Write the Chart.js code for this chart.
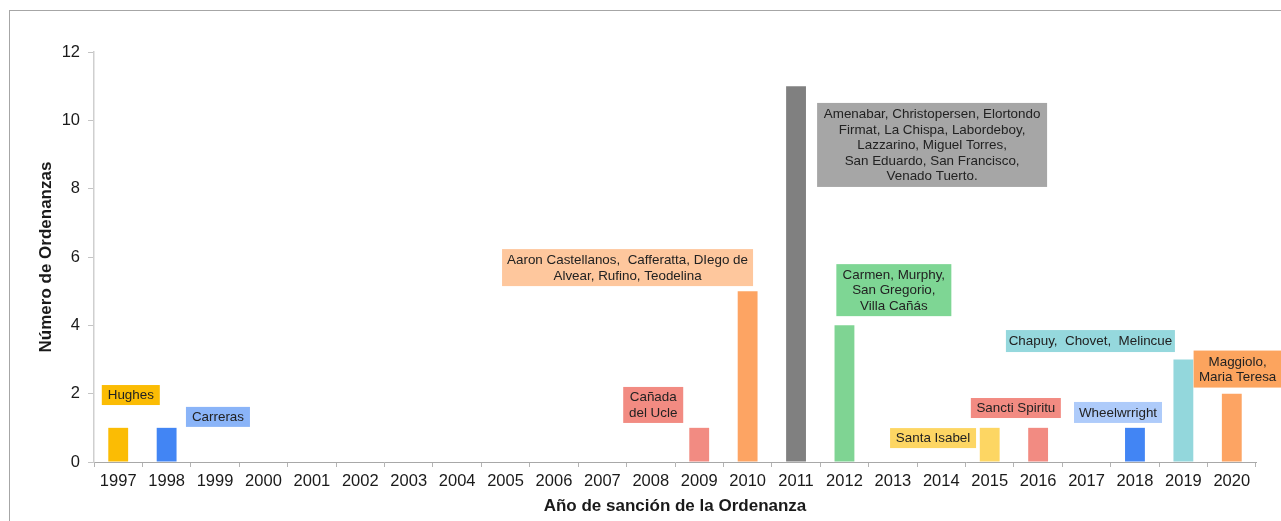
<!DOCTYPE html>
<html>
<head>
<meta charset="utf-8">
<script src="https://cdn.jsdelivr.net/npm/chart.js@4"></script>
<style>
  html, body { margin: 0; padding: 0; background: #fff; }
  #wrap { position: relative; width: 1281px; height: 521px; overflow: hidden; }
  #frame { position: absolute; left: 9px; top: 10px; width: 1300px; height: 600px;
           border-left: 1px solid #a6a6a6; border-top: 1px solid #a6a6a6; }
  #chart { position: absolute; left: 0; top: 0; }
</style>
</head>
<body>
<div id="wrap">
  <div id="frame"></div>
  <canvas id="chart" width="1281" height="521"></canvas>
</div>
<script>
// ==================== Data ====================
const years = ["1997", "1998", "1999", "2000", "2001", "2002", "2003", "2004", "2005", "2006", "2007", "2008",
  "2009", "2010", "2011", "2012", "2013", "2014", "2015", "2016", "2017", "2018", "2019", "2020"];
const ordenanzas = [1, 1, 0, 0, 0, 0, 0, 0, 0, 0, 0, 0, 1, 5, 11, 4, 0, 0, 1, 1, 0, 1, 3, 2];
const yTicks = [0, 2, 4, 6, 8, 10, 12];

// localities named in each box
const noteTexts = [
  ["Hughes"],
  ["Carreras"],
  ["Cañada", "del Ucle"],
  ["Aaron Castellanos,  Cafferatta, DIego de", "Alvear, Rufino, Teodelina"],
  ["Amenabar, Christopersen, Elortondo", "Firmat, La Chispa, Labordeboy,", "Lazzarino, Miguel Torres,", "San Eduardo, San Francisco,", "Venado Tuerto."],
  ["Carmen, Murphy,", "San Gregorio,", "Villa Cañás"],
  ["Santa Isabel"],
  ["Sancti Spiritu"],
  ["Wheelwrright"],
  ["Chapuy,  Chovet,  Melincue"],
  ["Maggiolo,", "Maria Teresa"]
];

// ==================== Styles ====================
const barColors = ["#FBBC04", "#4285F4", "#fff", "#fff", "#fff", "#fff", "#fff", "#fff", "#fff", "#fff", "#fff", "#fff",
  "#F28B82", "#FDA463", "#808080", "#7FD493", "#fff", "#fff", "#FDD663", "#F28B82", "#fff", "#4285F4", "#93D7DC", "#FDA463"];

// box placement: x in category units, y in axis units, w/h in px
const noteBoxes = [
  { x: 0.26, y: 1.96, w: 58, h: 20, fill: "#FBBC04" },
  { x: 2.06, y: 1.32, w: 64, h: 20, fill: "#8AB4F8" },
  { x: 11.05, y: 1.67, w: 60, h: 36, fill: "#F28B82" },
  { x: 10.52, y: 5.69, w: 251, h: 37, fill: "#FEC79D" },
  { x: 16.81, y: 9.28, w: 230, h: 84, fill: "#A6A6A6" },
  { x: 16.02, y: 5.03, w: 115, h: 52, fill: "#7ED694" },
  { x: 16.83, y: 0.70, w: 86, h: 20, fill: "#FDD663" },
  { x: 18.54, y: 1.58, w: 90, h: 20, fill: "#F28B82" },
  { x: 20.65, y: 1.45, w: 88, h: 21, fill: "#AECBFA" },
  { x: 20.08, y: 3.54, w: 169, h: 22, fill: "#95D8DD" },
  { x: 23.12, y: 2.72, w: 88, h: 37, fill: "#FCA45E" }
];

const FONT = "Liberation Sans, Arial, sans-serif";

// ==================== Notes plugin ====================
const notesPlugin = {
  id: "notes",
  afterDatasetsDraw(chart) {
    const ctx = chart.ctx;
    const xs = chart.scales.x, ys = chart.scales.y;
    ctx.save();
    ctx.font = "13.4px " + FONT;
    ctx.textAlign = "center";
    ctx.textBaseline = "middle";
    noteBoxes.forEach((b, i) => {
      const cx = xs.getPixelForValue(b.x);
      const cy = ys.getPixelForValue(b.y);
      ctx.fillStyle = b.fill;
      ctx.fillRect(cx - b.w / 2, cy - b.h / 2, b.w, b.h);
      const lines = noteTexts[i];
      const lh = 15.5;
      ctx.fillStyle = "#222";
      lines.forEach((t, k) => {
        ctx.fillText(t, cx, cy + (k - (lines.length - 1) / 2) * lh + 0.5);
      });
    });
    ctx.restore();
  }
};

// ==================== Chart ====================
const chart = new Chart(document.getElementById("chart").getContext("2d"), {
  type: "bar",
  data: {
    labels: years,
    datasets: [{
      data: ordenanzas,
      backgroundColor: barColors,
      borderWidth: 0,
      barPercentage: 0.41,
      categoryPercentage: 1
    }]
  },
  options: {
    responsive: false,
    animation: false,
    devicePixelRatio: 1,
    layout: { padding: { top: 52, right: 25, left: 0, bottom: 0 } },
    plugins: { legend: { display: false }, tooltip: { enabled: false } },
    scales: {
      x: {
        grid: { offset: true, drawOnChartArea: false, drawTicks: true, tickLength: 5, color: "#b4b4b4" },
        border: { color: "#a8a8a8", width: 1 },
        ticks: { color: "#1a1a1a", font: { family: FONT, size: 16.5 }, padding: 5, maxRotation: 0, autoSkip: false },
        title: { display: true, text: "Año de sanción de la Ordenanza", color: "#1a1a1a",
                 font: { family: FONT, size: 17, weight: "bold" }, padding: { top: 0, bottom: 4 } },
        afterFit: s => { s.height = 59; }
      },
      y: {
        min: 0, max: 12,
        afterBuildTicks: s => { s.ticks = yTicks.map(v => ({ value: v })); },
        grid: { drawOnChartArea: false, drawTicks: true, tickLength: 6, color: "#c4c4c4" },
        border: { color: "#cfcfcf", width: 1.5 },
        ticks: { color: "#1a1a1a", font: { family: FONT, size: 16.5 }, padding: 8 },
        title: { display: true, text: "Número de Ordenanzas", color: "#1a1a1a",
                 font: { family: FONT, size: 17, weight: "bold" }, padding: { top: 36, bottom: 0 } },
        afterFit: s => { s.width = 94; }
      }
    }
  },
  plugins: [notesPlugin]
});
</script>
</body>
</html>
